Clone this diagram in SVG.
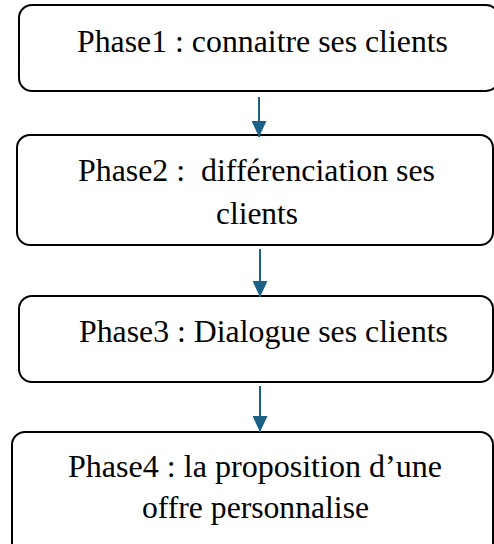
<svg xmlns="http://www.w3.org/2000/svg" width="494" height="544" viewBox="0 0 494 544">
  <style>
    .box { fill: #ffffff; stroke: #000000; stroke-width: 2; }
    .label { font-family: "Liberation Serif", "Times New Roman", serif; font-size: 31.5px; fill: #000000; text-anchor: middle; }
    .link { stroke: #1b6186; stroke-width: 2; fill: none; marker-end: url(#arrow); }
  </style>
  <defs>
    <marker id="arrow" markerWidth="16" markerHeight="15" refX="16" refY="7.5" orient="auto" markerUnits="userSpaceOnUse">
      <path d="M0,0 L16,7.5 L0,15 Z" fill="#1b6186"/>
    </marker>
  </defs>
  <rect width="494" height="544" fill="#ffffff"/>

  <g id="phase1">
    <rect class="box" x="19" y="5" width="480" height="86" rx="13"/>
    <text class="label" x="262.5" y="51.5" textLength="371" lengthAdjust="spacingAndGlyphs">Phase1 : connaitre ses clients</text>
  </g>

  <g id="phase2">
    <rect class="box" x="17" y="135" width="476" height="110" rx="13"/>
    <text class="label" x="256.5" y="181" textLength="357" lengthAdjust="spacingAndGlyphs" xml:space="preserve">Phase2 :  différenciation ses</text>
    <text class="label" x="257" y="223.5" textLength="82" lengthAdjust="spacingAndGlyphs">clients</text>
  </g>

  <g id="phase3">
    <rect class="box" x="19" y="296" width="474" height="86" rx="13"/>
    <text class="label" x="263.5" y="341.5" textLength="369" lengthAdjust="spacingAndGlyphs">Phase3 : Dialogue ses clients</text>
  </g>

  <g id="phase4">
    <rect class="box" x="12" y="432" width="481" height="130" rx="13"/>
    <text class="label" x="255" y="477" textLength="374" lengthAdjust="spacingAndGlyphs">Phase4 : la proposition d’une</text>
    <text class="label" x="255.5" y="518" textLength="227" lengthAdjust="spacingAndGlyphs">offre personnalise</text>
  </g>

  <g id="connectors">
    <line class="link" x1="259" y1="97" x2="259" y2="137"/>
    <line class="link" x1="260" y1="249" x2="260" y2="297"/>
    <line class="link" x1="260" y1="386" x2="260" y2="432"/>
  </g>
</svg>
